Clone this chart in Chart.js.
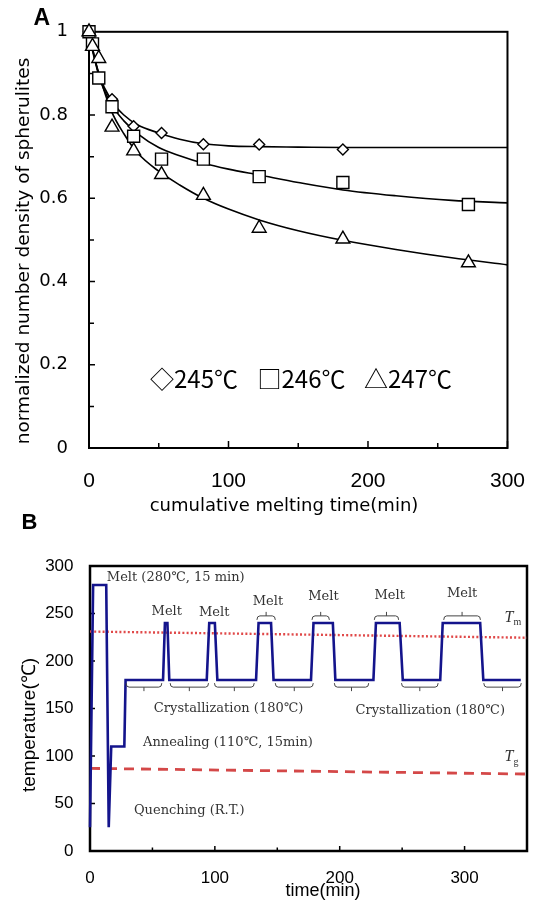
<!DOCTYPE html>
<html>
<head>
<meta charset="utf-8">
<script src="https://cdn.jsdelivr.net/npm/chart.js@4.4.1/dist/chart.umd.min.js"></script>
<style>
  body { margin: 0; background: #fff; }
  #wrap { position: relative; width: 546px; height: 901px; }
  canvas { position: absolute; left: 0; }
  #chartA { top: 0; }
  #chartB { top: 505px; }
</style>
</head>
<body>
<div id="wrap">
  <canvas id="chartA" width="546" height="520"></canvas>
  <canvas id="chartB" width="546" height="396"></canvas>
</div>
<script>
// ---- panel A data ----
const timeA = [0, 2.5, 7, 16.5, 32, 52, 82, 122, 182, 272];
const n245 = [1.0, null, null, 0.838, 0.773, 0.757, 0.730, 0.729, 0.717, null];
const n246 = [1.0, 0.971, 0.889, 0.820, 0.749, 0.694, 0.694, 0.652, 0.638, 0.585];
const n247 = [1.0, 0.965, 0.936, 0.771, 0.714, 0.657, 0.607, 0.528, 0.502, 0.445];

// fitted curves
const fitTime = [0, 2.5, 7, 16, 25, 35, 50, 65, 82, 100, 122, 150, 182, 220, 260, 300];
const fit245 = [1.0, 0.96, 0.90, 0.835, 0.80, 0.776, 0.757, 0.742, 0.731, 0.726, 0.724, 0.723, 0.722, 0.722, 0.722, 0.722];
const fit246 = [1.0, 0.96, 0.895, 0.826, 0.786, 0.755, 0.722, 0.702, 0.684, 0.670, 0.656, 0.638, 0.620, 0.606, 0.595, 0.589];
const fit247 = [1.0, 0.955, 0.90, 0.81, 0.755, 0.708, 0.665, 0.632, 0.600, 0.574, 0.548, 0.522, 0.499, 0.477, 0.457, 0.44];

const xTicksA = [0, 100, 200, 300];
const yTicksA = [0, 0.2, 0.4, 0.6, 0.8, 1];
const legendLabels = ["◇245℃", "□246℃", "△247℃"];

// ---- panel B data ----
const timeB = [0, 2.5, 13, 15, 17, 27.5, 28.5, 58.5, 60, 62, 63.5, 93.5, 95.5, 100, 102, 133, 135, 145, 147, 177, 179, 194.5, 196.5, 227, 229, 248, 250.5, 280.5, 282.5, 312.5, 315, 345];
const tempB = [25, 280, 280, 25, 110, 110, 180, 180, 240, 240, 180, 180, 240, 240, 180, 180, 240, 240, 180, 180, 240, 240, 180, 180, 240, 240, 180, 180, 240, 240, 180, 180];
const lineTime = [0, 350];
const tmTemp = [231, 224.5];
const tgTemp = [87, 81];

const xTicksB = [0, 100, 200, 300];
const yTicksB = [0, 50, 100, 150, 200, 250, 300];

const notesB = [
  { text: "Melt (280℃, 15 min)", t: 13.5, T: 287.5, align: "left" },
  { text: "Melt", t: 61.5, T: 251.5 },
  { text: "Melt", t: 99.5, T: 251 },
  { text: "Melt", t: 142.5, T: 262 },
  { text: "Melt", t: 187, T: 268 },
  { text: "Melt", t: 240, T: 269 },
  { text: "Melt", t: 298, T: 271 },
  { text: "Crystallization (180℃)", t: 111, T: 150 },
  { text: "Crystallization (180℃)", t: 272.5, T: 148 },
  { text: "Annealing (110℃, 15min)", t: 110.5, T: 114 },
  { text: "Quenching (R.T.)", t: 79.5, T: 43 },
];
const meltBraces = [[133.7, 148.4], [177.8, 191.7], [227.7, 247.2], [283.3, 312.7]];
const crystBraces = [[28.9, 57.5], [64.2, 94.9], [99.7, 131.5], [148.4, 178.8], [195.7, 223.2], [249.5, 278.8], [315.4, 345.4]];

const pts = (xs, ys) => xs.map((x, i) => ({ x: x, y: ys[i] })).filter(p => p.y !== null);

// box around the plot area plus inward ticks
const frameTicks = {
  id: "frameTicks",
  beforeDatasetsDraw(chart, args, opts) {
    const { ctx, chartArea: { left, right, top, bottom }, scales: { x, y } } = chart;
    ctx.save();
    ctx.strokeStyle = "#000";
    ctx.lineWidth = opts.frameWidth;
    ctx.strokeRect(left, top, right - left, bottom - top);
    ctx.lineWidth = 1.5;
    ctx.beginPath();
    const xt = x.ticks.map(t => t.value);
    xt.forEach((v, i) => {
      const px = x.getPixelForValue(v);
      ctx.moveTo(px, bottom);
      ctx.lineTo(px, bottom - opts.xMajor);
      if (opts.xMinor && i > 0) {
        const mx = x.getPixelForValue((v + xt[i - 1]) / 2);
        ctx.moveTo(mx, bottom);
        ctx.lineTo(mx, bottom - opts.xMinor);
      }
    });
    const yt = y.ticks.map(t => t.value);
    yt.forEach((v, i) => {
      const py = y.getPixelForValue(v);
      ctx.moveTo(left, py);
      ctx.lineTo(left + opts.yMajor, py);
      if (opts.yMinor && i > 0) {
        const my = y.getPixelForValue((v + yt[i - 1]) / 2);
        ctx.moveTo(left, my);
        ctx.lineTo(left + opts.yMinor, my);
      }
    });
    ctx.stroke();
    ctx.restore();
  },
};

// free text in canvas pixels (panel letters, axis titles, legend)
const freeText = {
  id: "freeText",
  afterDraw(chart, args, opts) {
    const { ctx } = chart;
    opts.items.forEach(it => {
      ctx.save();
      ctx.fillStyle = "#000";
      ctx.textBaseline = "middle";
      ctx.font = it.font;
      ctx.textAlign = it.align || "center";
      ctx.translate(it.x, it.y);
      if (it.rotate) ctx.rotate(it.rotate);
      ctx.fillText(it.text, 0, 0);
      ctx.restore();
    });
  },
};

// annotations of panel B, placed in data coordinates
const notesPlugin = {
  id: "notesB",
  afterDatasetsDraw(chart) {
    const { ctx, scales: { x, y } } = chart;
    ctx.save();
    ctx.fillStyle = "#333";
    ctx.textBaseline = "middle";
    ctx.font = "13px 'DejaVu Serif'";
    notesB.forEach(n => {
      ctx.textAlign = n.align || "center";
      ctx.fillText(n.text, x.getPixelForValue(n.t), y.getPixelForValue(n.T));
    });

    ctx.strokeStyle = "#444";
    ctx.lineWidth = 1;
    const brace = (t1, t2, T, dir) => {
      const x1 = x.getPixelForValue(t1);
      const x2 = x.getPixelForValue(t2);
      const py = y.getPixelForValue(T);
      const xm = (x1 + x2) / 2;
      ctx.beginPath();
      ctx.moveTo(x1, py - dir * 4);
      ctx.quadraticCurveTo(x1, py, x1 + 3, py);
      ctx.lineTo(x2 - 3, py);
      ctx.quadraticCurveTo(x2, py, x2, py - dir * 4);
      ctx.moveTo(xm, py);
      ctx.lineTo(xm, py + dir * 4);
      ctx.stroke();
    };
    meltBraces.forEach(b => brace(b[0], b[1], 247.5, -1));
    crystBraces.forEach(b => brace(b[0], b[1], 172.5, 1));

    const sub = (main, s, t, T) => {
      const px = x.getPixelForValue(t);
      const py = y.getPixelForValue(T);
      ctx.textAlign = "left";
      ctx.font = "italic 16px 'Liberation Serif'";
      ctx.fillText(main, px, py);
      const w = ctx.measureText(main).width;
      ctx.font = "10px 'Liberation Serif'";
      ctx.fillText(s, px + w, py + 5);
    };
    sub("T", "m", 332, 246);
    sub("T", "g", 332, 99);
    ctx.restore();
  },
};

const marker = (label, data, style, radius, order) => ({
  label: label,
  data: pts(timeA, data),
  showLine: false,
  pointStyle: style,
  pointRadius: radius,
  pointBackgroundColor: "#fff",
  pointBorderColor: "#000",
  pointBorderWidth: 1.4,
  clip: false,
  order: order,
});
const fitLine = (data) => ({
  data: pts(fitTime, data),
  borderColor: "#000",
  borderWidth: 1.6,
  pointRadius: 0,
  cubicInterpolationMode: "monotone",
  order: 10,
});

const chartA = new Chart(document.getElementById("chartA").getContext("2d"), {
  type: "line",
  data: {
    datasets: [
      fitLine(fit245),
      fitLine(fit246),
      fitLine(fit247),
      marker("245℃", n245, "rectRot", 5.5, 3),
      marker("246℃", n246, "rect", 8.5, 2),
      marker("247℃", n247, "triangle", 8, 1),
    ],
  },
  options: {
    responsive: false,
    animation: false,
    layout: { padding: { top: 26, right: 27, left: 0, bottom: 0 } },
    plugins: {
      legend: { display: false },
      tooltip: { enabled: false },
      frameTicks: { frameWidth: 2, xMajor: 7, xMinor: 5, yMajor: 6, yMinor: 5 },
      freeText: {
        items: [
          { text: "A", x: 41.7, y: 18.7, font: "bold 23px 'Liberation Sans'" },
          { text: "cumulative melting time(min)", x: 284, y: 506, font: "18px 'DejaVu Sans'" },
          { text: "normalized number density of spherulites", x: 24, y: 251, rotate: -Math.PI / 2, font: "18.5px 'DejaVu Sans'" },
          { text: legendLabels[0], x: 150, y: 379, align: "left", font: "24px 'Noto Sans CJK JP'" },
          { text: legendLabels[1], x: 257.5, y: 379, align: "left", font: "24px 'Noto Sans CJK JP'" },
          { text: legendLabels[2], x: 364, y: 379, align: "left", font: "24px 'Noto Sans CJK JP'" },
        ],
      },
    },
    scales: {
      x: {
        type: "linear",
        min: 0,
        max: 300,
        afterBuildTicks: (s) => { s.ticks = xTicksA.map(v => ({ value: v })); },
        afterFit: (s) => { s.height = 72; },
        grid: { display: false, drawTicks: false },
        border: { display: false },
        ticks: { color: "#000", padding: 21, maxRotation: 0, autoSkip: false, font: { family: "Liberation Sans", size: 21 } },
      },
      y: {
        min: 0,
        max: 1,
        afterBuildTicks: (s) => { s.ticks = yTicksA.map(v => ({ value: v })); },
        afterFit: (s) => { s.width = 89; },
        grid: { display: false, drawTicks: false },
        border: { display: false },
        ticks: { color: "#000", padding: 21, autoSkip: false, callback: (v) => String(v), font: { family: "DejaVu Sans", size: 18 } },
      },
    },
  },
  plugins: [frameTicks, freeText],
});

const chartB = new Chart(document.getElementById("chartB").getContext("2d"), {
  type: "line",
  data: {
    datasets: [
      {
        label: "temperature",
        data: pts(timeB, tempB),
        borderColor: "#14148c",
        borderWidth: 2.6,
        pointRadius: 0,
        tension: 0,
        clip: false,
        order: 1,
      },
      {
        label: "Tm",
        data: pts(lineTime, tmTemp),
        borderColor: "#e04848",
        borderWidth: 2.4,
        borderDash: [2, 2.2],
        pointRadius: 0,
        order: 2,
      },
      {
        label: "Tg",
        data: pts(lineTime, tgTemp),
        borderColor: "#d44848",
        borderWidth: 2.8,
        borderDash: [10, 7],
        pointRadius: 0,
        order: 3,
      },
    ],
  },
  options: {
    responsive: false,
    animation: false,
    layout: { padding: { top: 61, right: 19, left: 0, bottom: 0 } },
    plugins: {
      legend: { display: false },
      tooltip: { enabled: false },
      frameTicks: { frameWidth: 2.5, xMajor: 5, xMinor: 3.5, yMajor: 5, yMinor: 0 },
      freeText: {
        items: [
          { text: "B", x: 29.5, y: 17.7, font: "bold 22px 'Liberation Sans'" },
          { text: "time(min)", x: 323, y: 386.5, font: "18px 'Liberation Sans'" },
          { text: "temperature(℃)", x: 29.5, y: 220, rotate: -Math.PI / 2, font: "19px 'Liberation Sans'" },
        ],
      },
    },
    scales: {
      x: {
        type: "linear",
        min: 0,
        max: 350,
        afterBuildTicks: (s) => { s.ticks = xTicksB.map(v => ({ value: v })); },
        afterFit: (s) => { s.height = 50; },
        grid: { display: false, drawTicks: false },
        border: { display: false },
        ticks: { color: "#000", padding: 17, maxRotation: 0, autoSkip: false, font: { family: "Liberation Sans", size: 17 } },
      },
      y: {
        min: 0,
        max: 300,
        afterBuildTicks: (s) => { s.ticks = yTicksB.map(v => ({ value: v })); },
        afterFit: (s) => { s.width = 90; },
        grid: { display: false, drawTicks: false },
        border: { display: false },
        ticks: { color: "#000", padding: 16.5, autoSkip: false, font: { family: "Liberation Sans", size: 17 } },
      },
    },
  },
  plugins: [frameTicks, notesPlugin, freeText],
});
</script>
</body>
</html>
